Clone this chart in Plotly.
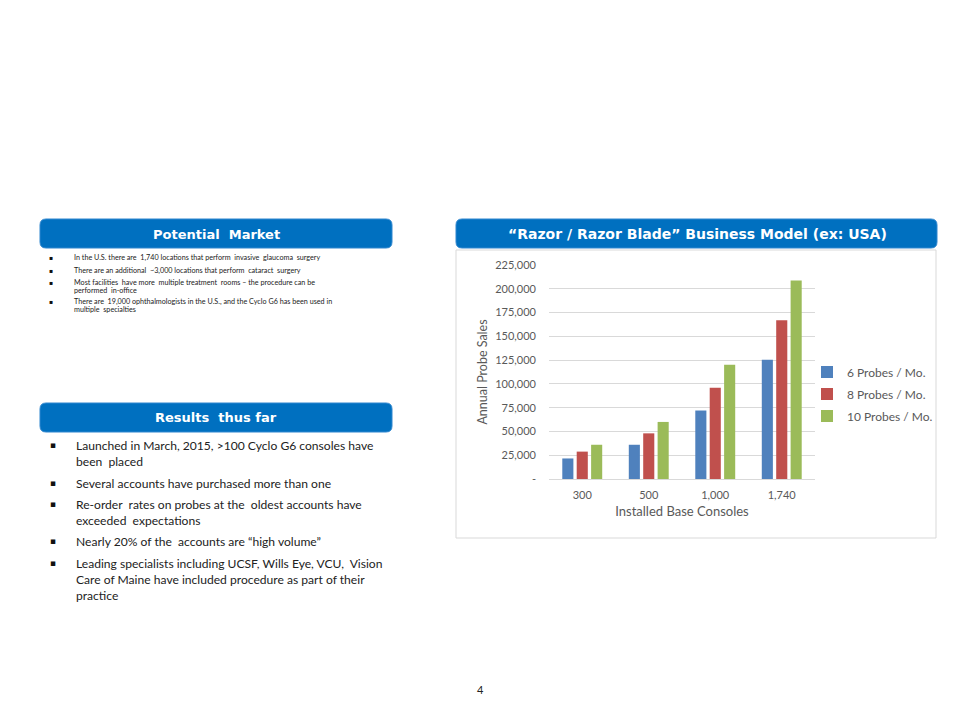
import plotly.graph_objects as go

# ---- data ----
categories = ["300", "500", "1,000", "1,740"]
series_names = ["6 Probes / Mo.", "8 Probes / Mo.", "10 Probes / Mo."]
probes_6 = [21600, 36000, 72000, 125280]
probes_8 = [28800, 48000, 96000, 167040]
probes_10 = [36000, 60000, 120000, 208800]
series_colors = ["#4F81BD", "#C0504D", "#9BBB59"]
y_tickvals = [0, 25000, 50000, 75000, 100000, 125000, 150000, 175000, 200000, 225000]
y_ticktext = ["-", "25,000", "50,000", "75,000", "100,000", "125,000", "150,000",
              "175,000", "200,000", "225,000"]

market_lines = [
    ("In the U.S. there are  1,740 locations that perform  invasive  glaucoma  surgery", True),
    ("There are an additional  ~3,000 locations that perform  cataract  surgery", True),
    ("Most facilities  have more  multiple treatment  rooms \u2013 the procedure can be", True),
    ("performed  in-office", False),
    ("There are  19,000 ophthalmologists in the U.S., and the Cyclo G6 has been used in", True),
    ("multiple  specialties", False),
]
market_y = [257, 270, 282.5, 290, 301.5, 309]

results_lines = [
    ("Launched in March, 2015, >100 Cyclo G6 consoles have", True),
    ("been  placed", False),
    ("Several accounts have purchased more than one", True),
    ("Re-order  rates on probes at the  oldest accounts have", True),
    ("exceeded  expectations", False),
    ("Nearly 20% of the  accounts are \u201chigh volume\u201d", True),
    ("Leading specialists including UCSF, Wills Eye, VCU,  Vision", True),
    ("Care of Maine have included procedure as part of their", False),
    ("practice", False),
]
results_y = [445, 461, 483, 504, 520, 541, 563, 579, 595]

# ---- layout geometry (page pixels; page has an 8px body offset) ----
OFF = 8
W, H = 944, 704
PL, PR, PT, PB = 549, 815, 265, 479


def fx(px):
    return (px - PL) / (PR - PL)


def fy(py):
    return (PB - py) / (PB - PT)


def rounded_rect(x0, y0, x1, y1, r=6):
    rx = r / (PR - PL)
    ry = r / (PB - PT)
    X0, X1 = fx(x0), fx(x1)
    Y0, Y1 = fy(y0), fy(y1)
    return (f"M{X0+rx},{Y0} L{X1-rx},{Y0} Q{X1},{Y0} {X1},{Y0-ry} "
            f"L{X1},{Y1+ry} Q{X1},{Y1} {X1-rx},{Y1} L{X0+rx},{Y1} "
            f"Q{X0},{Y1} {X0},{Y1+ry} L{X0},{Y0-ry} Q{X0},{Y0} {X0+rx},{Y0} Z")


fig = go.Figure()
for name, vals, col in zip(series_names, [probes_6, probes_8, probes_10], series_colors):
    fig.add_trace(go.Bar(x=categories, y=vals, name=name, marker_color=col,
                         marker_line_width=0, legendgroup=name))

BLUE = "#0070C0"
EDGE = "#2F86CF"
shapes = [
    dict(type="rect", xref="paper", yref="paper", x0=fx(456), x1=fx(936), y0=fy(250), y1=fy(538),
         line=dict(color="#D9D9D9", width=1), fillcolor="rgba(0,0,0,0)", layer="below"),
    dict(type="path", xref="paper", yref="paper", path=rounded_rect(40, 219, 392, 248),
         fillcolor=BLUE, line=dict(color=EDGE, width=1)),
    dict(type="path", xref="paper", yref="paper", path=rounded_rect(456, 219, 937, 248),
         fillcolor=BLUE, line=dict(color=EDGE, width=1)),
    dict(type="path", xref="paper", yref="paper", path=rounded_rect(40, 403, 392, 432),
         fillcolor=BLUE, line=dict(color=EDGE, width=1)),
]

annotations = []
for txt, cx, cy, sz in [("<b>Potential  Market</b>", 216, 234, 13),
                        ("<b>\u201cRazor / Razor Blade\u201d Business Model (ex: USA)</b>", 697, 234, 14),
                        ("<b>Results  thus far</b>", 216, 417, 13)]:
    annotations.append(dict(text=txt, x=fx(cx), y=fy(cy), xref="paper", yref="paper",
                            showarrow=False, xanchor="center", yanchor="middle",
                            font=dict(family="DejaVu Sans", size=sz, color="white")))

for (txt, bullet), yy in zip(market_lines, market_y):
    annotations.append(dict(text=txt, x=fx(72), y=fy(yy), xref="paper", yref="paper",
                            showarrow=False, xanchor="left", yanchor="middle",
                            font=dict(family="Lato", size=7.2, color="#222222")))
    if bullet:
        annotations.append(dict(text="\u25aa", x=fx(51), y=fy(yy), xref="paper", yref="paper",
                                showarrow=False, xanchor="center", yanchor="middle",
                                font=dict(family="DejaVu Sans", size=6, color="#111111")))

for (txt, bullet), yy in zip(results_lines, results_y):
    annotations.append(dict(text=txt, x=fx(74), y=fy(yy), xref="paper", yref="paper",
                            showarrow=False, xanchor="left", yanchor="middle",
                            font=dict(family="Lato", size=12.1, color="#222222")))
    if bullet:
        annotations.append(dict(text="\u25aa", x=fx(53), y=fy(yy), xref="paper", yref="paper",
                                showarrow=False, xanchor="center", yanchor="middle",
                                font=dict(family="DejaVu Sans", size=9, color="#111111")))

annotations.append(dict(text="4", x=fx(480), y=fy(689), xref="paper", yref="paper",
                        showarrow=False, xanchor="center", yanchor="middle",
                        font=dict(family="Lato", size=11, color="#222222")))

fig.update_layout(
    width=W, height=H,
    margin=dict(l=PL - OFF, r=W - (PR - OFF), t=PT - OFF, b=H - (PB - OFF), autoexpand=False),
    paper_bgcolor="white", plot_bgcolor="white",
    barmode="group", bargap=0.35, bargroupgap=0.23,
    font=dict(family="Lato", color="#595959", size=11),
    shapes=shapes, annotations=annotations,
    legend=dict(x=fx(807), y=fy(394), xanchor="left", yanchor="middle",
                font=dict(size=12, color="#595959"), itemwidth=30,
                traceorder="grouped", tracegroupgap=3, bgcolor="rgba(0,0,0,0)"),
    showlegend=True,
)
fig.update_xaxes(showgrid=False, showline=True, linecolor="#D9D9D9", ticks="",
                 ticklabelstandoff=6, tickfont=dict(size=11, color="#595959"),
                 title=dict(text="Installed Base Consoles", standoff=6,
                            font=dict(size=13, color="#595959")))
fig.update_yaxes(range=[0, 225000], tickvals=y_tickvals, ticktext=y_ticktext,
                 showgrid=True, gridcolor="#D9D9D9", gridwidth=1, zeroline=False,
                 showline=False, ticks="", ticklabelstandoff=12,
                 tickfont=dict(size=11, color="#595959"),
                 title=dict(text="Annual Probe Sales", standoff=4,
                            font=dict(size=12.5, color="#595959")))

fig.write_html("out.html")
